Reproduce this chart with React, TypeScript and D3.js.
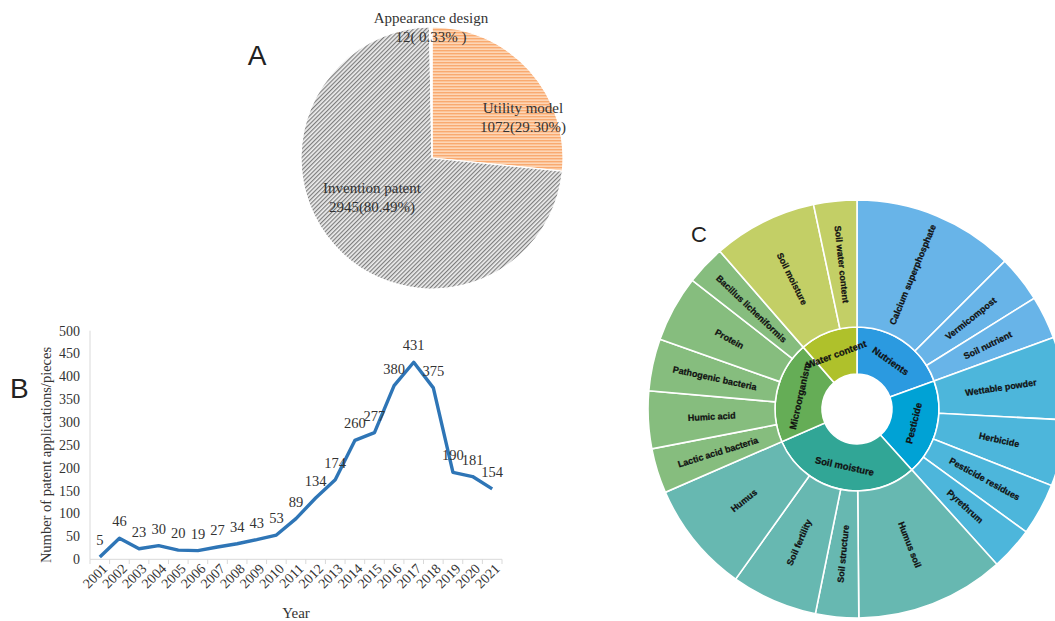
import React from "react";
import * as d3 from "d3";

// ---------- Panel A data ----------
const pieNames = ["Utility model", "Invention patent", "Appearance design"];
const pieValues = [1072, 2945, 12];
const pieLabelLine1 = ["Utility model", "Invention patent", "Appearance design"];
const pieLabelLine2 = ["1072(29.30%)", "2945(80.49%)", "12( 0.33% )"];

// ---------- Panel B data ----------
const years = ["2001","2002","2003","2004","2005","2006","2007","2008","2009","2010","2011","2012","2013","2014","2015","2016","2017","2018","2019","2020","2021"];
const counts = [5,46,23,30,20,19,27,34,43,53,89,134,174,260,277,380,431,375,190,181,154];
const yTicks = [0,50,100,150,200,250,300,350,400,450,500];

// ---------- Panel C data ----------
const groups = ["Nutrients", "Pesticide", "Soil moisture", "Microorganism", "Water content"];
const nutrientsLeaves = ["Calcium superphosphate", "Vermicompost", "Soil nutrient"];
const nutrientsValues = [45, 13, 12];
const pesticideLeaves = ["Wettable powder", "Herbicide", "Pesticide residues", "Pyrethrum"];
const pesticideValues = [23, 18.5, 14.5, 12];
const soilLeaves = ["Humus soil", "Soil structure", "Soil fertility", "Humus"];
const soilValues = [41.5, 12, 24, 31];
const microLeaves = ["Lactic acid bacteria", "Humic acid", "Pathogenic bacteria", "Protein", "Bacillus licheniformis"];
const microValues = [12.5, 16, 14.5, 18.5, 11];
const waterLeaves = ["Soil moisture", "Soil water content"];
const waterValues = [29, 12];
const innerColors = ["#2b9ae0", "#00a2d5", "#31a696", "#65ad56", "#afc12b"];
const outerColors = ["#68b4e8", "#4db6db", "#67b8b1", "#86bd7e", "#c3cf66"];

const SERIF = "'Liberation Serif', 'Times New Roman', serif";
const SANS = "'Liberation Sans', Arial, sans-serif";

function PanelA() {
  const cx = 432, cy = 158, R = 131;
  const pie = d3.pie<number>().sort(null).value((d) => d)(pieValues);
  const arc = d3.arc<d3.PieArcDatum<number>>().innerRadius(0).outerRadius(R);
  const fills = ["url(#orangeStripe)", "url(#grayHatch)", "#ffffff"];
  const labelPos: [number, number][] = [[523, 113], [372, 193], [431, 23]];
  return (
    <g>
      <defs>
        <pattern id="orangeStripe" width="4" height="3" patternUnits="userSpaceOnUse">
          <rect width="4" height="3" fill="#fdd6b6" />
          <rect y="0" width="4" height="1.4" fill="#f9aa70" />
        </pattern>
        <pattern id="grayHatch" width="3" height="3" patternUnits="userSpaceOnUse" patternTransform="rotate(45)">
          <rect width="3" height="3" fill="#eeeeee" />
          <rect x="0" width="1.2" height="3" fill="#7d7d7d" />
        </pattern>
      </defs>
      <g transform={`translate(${cx},${cy})`}>
        {pie.map((p, i) => (
          <path key={pieNames[i]} d={arc(p) || ""} fill={fills[i]} stroke="#ffffff" strokeWidth={1.2} />
        ))}
      </g>
      {labelPos.map(([x, y], i) => (
        <text key={i} x={x} y={y} textAnchor="middle" fontFamily={SERIF} fontSize={15} fill="#333">
          <tspan x={x}>{pieLabelLine1[i]}</tspan>
          <tspan x={x} dy={18.5}>{pieLabelLine2[i]}</tspan>
        </text>
      ))}
      <text x={257} y={65} textAnchor="middle" fontFamily={SANS} fontSize={28} fill="#222">A</text>
    </g>
  );
}

function PanelB() {
  const x = d3.scaleBand<string>().domain(years).range([90, 502]).padding(0);
  const y = d3.scaleLinear().domain([0, 500]).range([559.3, 330.7]);
  const cxs = (yr: string) => (x(yr) || 0) + x.bandwidth() / 2;
  const line = d3.line<number>().x((_, i) => cxs(years[i])).y((d) => y(d));
  const boundaries = d3.range(years.length + 1).map((i) => 90 + i * x.bandwidth());
  return (
    <g>
      <line x1={90} x2={90} y1={330.7} y2={559.3} stroke="#d9d9d9" strokeWidth={1} />
      <line x1={90} x2={502} y1={559.3} y2={559.3} stroke="#d9d9d9" strokeWidth={1} />
      {boundaries.map((b, i) => (
        <line key={i} x1={b} x2={b} y1={559.3} y2={564} stroke="#d9d9d9" strokeWidth={1} />
      ))}
      {yTicks.map((t) => (
        <text key={t} x={80} y={y(t)} dy="0.35em" textAnchor="end" fontFamily={SERIF} fontSize={14} fill="#333">{t}</text>
      ))}
      {years.map((yr) => (
        <text key={yr} transform={`translate(${cxs(yr) + 5},${566}) rotate(-45)`} textAnchor="end" dy="0.35em" fontFamily={SERIF} fontSize={14} fill="#333">{yr}</text>
      ))}
      <path d={line(counts) || ""} fill="none" stroke="#2e75b6" strokeWidth={3.4} strokeLinejoin="round" />
      {counts.map((c, i) => (
        <text key={i} x={cxs(years[i])} y={y(c) - 12} textAnchor="middle" fontFamily={SERIF} fontSize={14.5} fill="#333">{c}</text>
      ))}
      <text transform={`translate(51,${455}) rotate(-90)`} textAnchor="middle" fontFamily={SERIF} fontSize={14.5} fill="#333">Number of patent applications/pieces</text>
      <text x={296} y={618} textAnchor="middle" fontFamily={SERIF} fontSize={15} fill="#333">Year</text>
      <text x={10} y={398} fontFamily={SANS} fontSize={28} fill="#222">B</text>
    </g>
  );
}

type Node = { name: string; value?: number; children?: Node[] };

function PanelC() {
  const cx = 857, cy = 409;
  const r0 = 35, r1 = 82, r2 = 209;
  const leafSets = [
    [nutrientsLeaves, nutrientsValues],
    [pesticideLeaves, pesticideValues],
    [soilLeaves, soilValues],
    [microLeaves, microValues],
    [waterLeaves, waterValues],
  ] as [string[], number[]][];
  const data: Node = {
    name: "root",
    children: groups.map((g, gi) => ({
      name: g,
      children: leafSets[gi][0].map((n, li) => ({ name: n, value: leafSets[gi][1][li] })),
    })),
  };
  const root = d3.hierarchy<Node>(data).sum((d) => d.value || 0);
  const part = d3.partition<Node>().size([2 * Math.PI, 3])(root);
  const nodes = part.descendants().filter((d) => d.depth > 0);
  const arc = d3
    .arc<d3.HierarchyRectangularNode<Node>>()
    .startAngle((d) => d.x0)
    .endAngle((d) => d.x1)
    .innerRadius((d) => (d.depth === 1 ? r0 : r1))
    .outerRadius((d) => (d.depth === 1 ? r1 : r2));
  const groupIndex = (d: d3.HierarchyRectangularNode<Node>) =>
    groups.indexOf(d.depth === 1 ? d.data.name : (d.parent as any).data.name);
  return (
    <g>
      <g transform={`translate(${cx},${cy})`}>
        {nodes.map((d, i) => (
          <path
            key={i}
            d={arc(d) || ""}
            fill={d.depth === 1 ? innerColors[groupIndex(d)] : outerColors[groupIndex(d)]}
            stroke="#ffffff"
            strokeWidth={1.6}
          />
        ))}
        {nodes.map((d, i) => {
          const a = ((d.x0 + d.x1) / 2) * (180 / Math.PI);
          if (d.depth === 1) {
            const rm = (r0 + r1) / 2;
            const flip = a > 90 && a < 270;
            return (
              <text
                key={"t" + i}
                transform={`rotate(${a}) translate(0,${-rm}) rotate(${flip ? 180 : 0})`}
                textAnchor="middle"
                dy="0.35em"
                fontFamily={SANS}
                fontWeight={700}
                fontSize={9.5}
                fill="#111"
                stroke="#111"
                strokeWidth={0.25}
              >
                {d.data.name}
              </text>
            );
          }
          const rm = (r1 + r2) / 2;
          return (
            <text
              key={"t" + i}
              transform={`rotate(${a - 90}) translate(${rm},0) rotate(${a < 180 ? 0 : 180})`}
              textAnchor="middle"
              dy="0.35em"
              fontFamily={SANS}
              fontWeight={700}
              fontSize={9}
              fill="#111"
              stroke="#111"
              strokeWidth={0.25}
            >
              {d.data.name}
            </text>
          );
        })}
        <circle r={r0} fill="#ffffff" />
      </g>
      <text x={691} y={242} fontFamily={SANS} fontSize={22} fill="#222">C</text>
    </g>
  );
}

export default function App() {
  return (
    <svg
      width={1055}
      height={621}
      viewBox="0 0 1055 621"
      style={{ position: "absolute", left: 0, top: 0, background: "#ffffff" }}
    >
      <rect width={1055} height={621} fill="#ffffff" />
      <PanelA />
      <PanelB />
      <PanelC />
    </svg>
  );
}
